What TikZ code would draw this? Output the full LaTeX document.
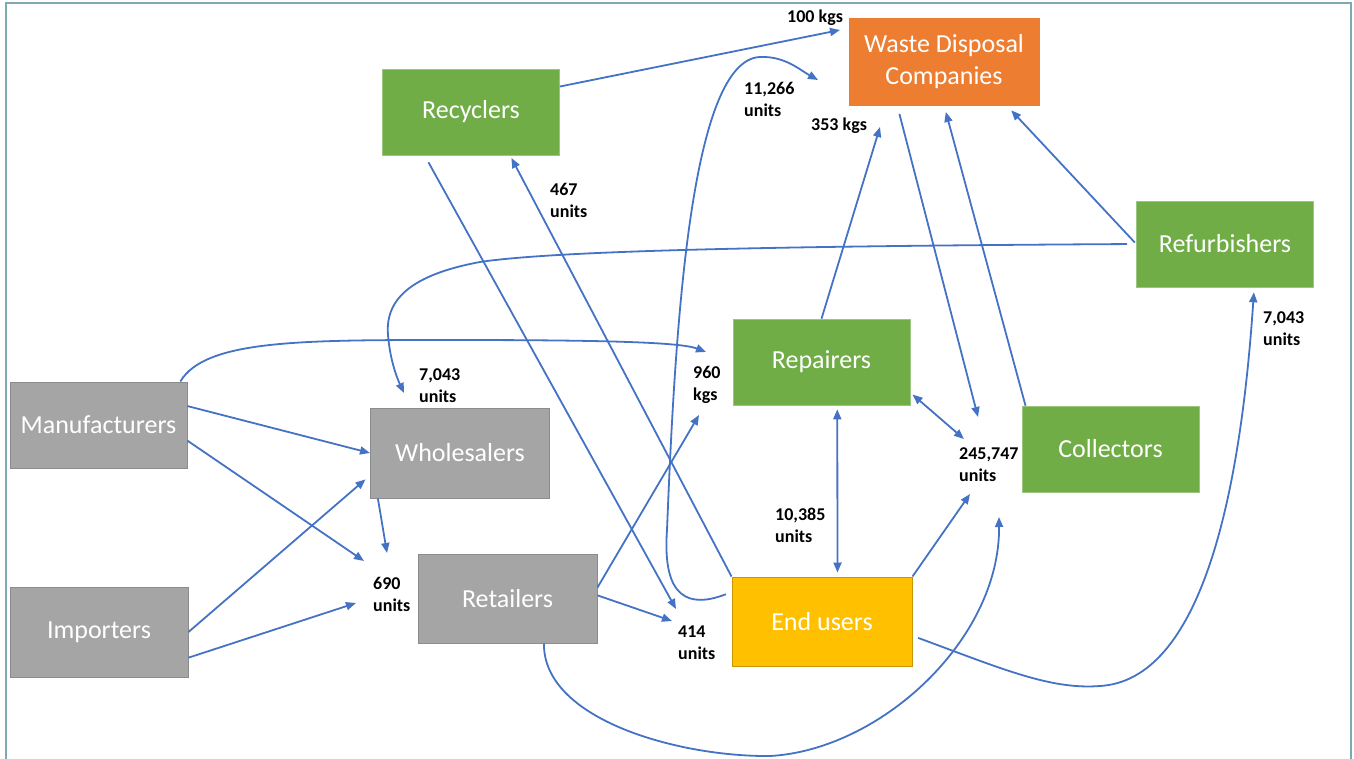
\documentclass[tikz,border=0pt]{standalone}
\usepackage{fontspec}
\setmainfont{Carlito}
\usepackage{xcolor}
\usetikzlibrary{arrows.meta}
\definecolor{boxgrey}{HTML}{A5A5A5}
\definecolor{edgegrey}{HTML}{8C8C8C}
\definecolor{boxgreen}{HTML}{70AD47}
\definecolor{boxorange}{HTML}{ED7D31}
\definecolor{boxyellow}{HTML}{FFC000}
\definecolor{edgeyellow}{HTML}{C89600}
\definecolor{flowblue}{HTML}{4472C4}
\definecolor{framecol}{HTML}{7DA9B3}
\tikzset{
  box/.style={rectangle, text=white, inner sep=0pt, align=center,
    font=\fontsize{26}{32}\selectfont, minimum width=177pt, minimum height=86pt},
  gbox/.style={box, fill=boxgrey, draw=edgegrey, line width=1pt},
  grbox/.style={box, fill=boxgreen, draw=boxgreen!70!white, line width=0.6pt},
  obox/.style={box, fill=boxorange, draw=boxorange},
  ybox/.style={box, fill=boxyellow, draw=edgeyellow, line width=1pt},
  flow/.style={draw=flowblue, line width=1.8pt, -{Triangle[length=10pt,width=8pt]}},
  dflow/.style={draw=flowblue, line width=1.8pt, {Triangle[length=10pt,width=8pt]}-{Triangle[length=10pt,width=8pt]}},
  lbl/.style={font=\fontsize{18}{22}\bfseries\selectfont, align=left, anchor=west, inner sep=0pt},
  frame/.style={draw=framecol, line width=2pt}
}

\begin{document}
\begin{tikzpicture}[x=1pt, y=-1pt]
    \useasboundingbox (0,0) rectangle (1354,759);
    \draw[frame] (5.5,759) -- (5.5,3) -- (1351,3) -- (1351,759);
    \node[grbox] (rec) at (471,112) {Recyclers};
    \node[obox, minimum width=190pt, minimum height=87pt] (wdc) at (944,61.5) {Waste Disposal\\Companies};
    \node[grbox] (ref) at (1225,244) {Refurbishers};
    \node[grbox] (rep) at (821.5,362) {Repairers};
    \node[grbox] (col) at (1110.5,449) {Collectors};
    \node[gbox] (man) at (98.5,425) {Manufacturers};
    \node[gbox, minimum width=179pt, minimum height=90pt] (who) at (460,453) {Wholesalers};
    \node[gbox, minimum width=178pt, minimum height=90pt] (imp) at (99,632) {Importers};
    \node[gbox, minimum width=179pt, minimum height=89pt] (ret) at (507.5,598.5) {Retailers};
    \node[ybox, minimum width=180pt, minimum height=89pt] (eu) at (822,621.5) {End users};
    \node[lbl] (l100) at (787,18) {100 kgs};
    \node[lbl] (l11266) at (744,99.5) {11,266\\units};
    \node[lbl] (l353) at (811,126) {353 kgs};
    \node[lbl] (l467) at (550,200) {467\\units};
    \node[lbl] (l7043a) at (419,386) {7,043\\units};
    \node[lbl] (l960) at (693,385) {960\\kgs};
    \node[lbl] (l7043b) at (1263,329) {7,043\\units};
    \node[lbl] (l245) at (959,465) {245,747\\units};
    \node[lbl] (l10385) at (775,525) {10,385\\units};
    \node[lbl] (l690) at (373,594) {690\\units};
    \node[lbl] (l414) at (678,643) {414\\units};
    \coordinate (t100) at (840,30);
    \coordinate (t11266) at (818,80);
    \coordinate (t353) at (880,127);
    \coordinate (t245a) at (978,417);
    \coordinate (t245b) at (964,439);
    \coordinate (t245c) at (970,494);
    \coordinate (t245d) at (999,517);
    \coordinate (t7043) at (404,393);
    \coordinate (t960a) at (706,352);
    \coordinate (t960b) at (699,415);
    \coordinate (t690a) at (364,561);
    \coordinate (t690b) at (356,603);
    \coordinate (t690c) at (387,553);
    \coordinate (t414a) at (672,621);
    \coordinate (t414b) at (676,609);
    \draw[flow] (rec.16) -- (t100);
    \draw[flow, shorten <=6pt] (eu.162) .. controls (690,608) and (662,600) .. (667,530)
      .. controls (675,330) and (690,60) .. (760,57) .. controls (785,56) and (800,70) .. (t11266);
    \draw[flow] (rep.north) -- (t353);
    \draw[flow, shorten <=9pt] (wdc.223) -- (t245a);
    \draw[flow, shorten >=7pt] (col.153) -- (wdc.south);
    \draw[flow, shorten <=2pt, shorten >=7pt] (ref.west) -- (wdc.-35);
    \draw[flow, shorten <=9pt] (ref.west) .. controls (800,246) and (560,250) .. (480,262)
      .. controls (410,275) and (385,300) .. (388,335) .. controls (390,360) and (397,378) .. (t7043);
    \draw[flow] (man.28) .. controls (205,340) and (300,340) .. (450,340)
      .. controls (600,340) and (680,342) .. (t960a);
    \draw[flow] (man.12) -- (who.west);
    \draw[flow] (man.-10) -- (t690a);
    \draw[flow, shorten >=6pt] (imp.east) -- (who.194);
    \draw[flow] (imp.-16) -- (t690b);
    \draw[flow] (who.209) -- (t690c);
    \draw[flow] (ret.7) -- (t960b);
    \draw[flow] (ret.2) -- (t414a);
    \draw[flow, shorten <=8pt] (rec.223) -- (t414b);
    \draw[flow, shorten >=3pt] (eu.north west) -- (rec.-48);
    \draw[dflow, shorten <=4pt, shorten >=4pt] (rep.-70) -- (eu.71);
    \draw[dflow, shorten <=3pt] (rep.-19) -- (t245b);
    \draw[flow] (eu.north east) -- (t245c);
    \draw[flow] (ret.-51) .. controls (543,720) and (680,757) .. (770,756)
      .. controls (880,750) and (1000,640) .. (t245d);
    \draw[flow, shorten <=6pt, shorten >=5pt] (eu.-9) .. controls (1000,668) and (1050,690) .. (1100,686)
      .. controls (1200,680) and (1240,500) .. (ref.-56);
\end{tikzpicture}
\end{document}
